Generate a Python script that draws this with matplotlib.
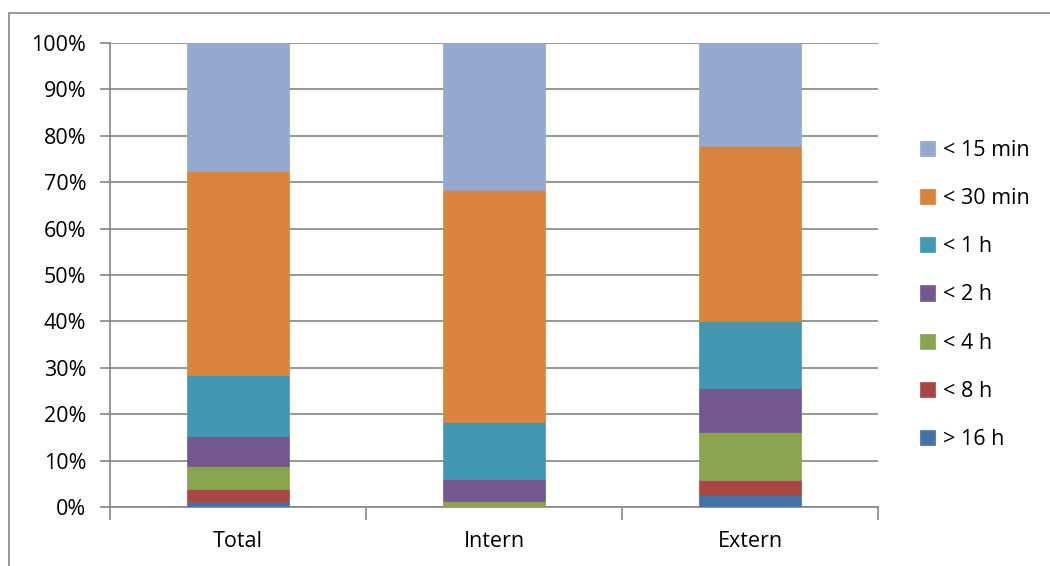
import numpy as np
import matplotlib
matplotlib.use("Agg")
import matplotlib.pyplot as plt
from matplotlib.patches import Rectangle
from matplotlib.ticker import FuncFormatter, MultipleLocator

plt.rcParams.update({"font.family": ["Open Sans", "DejaVu Sans"], "font.size": 15.5})

groups = ["Total", "Intern", "Extern"]
labels = ["> 16 h", "< 8 h", "< 4 h", "< 2 h", "< 1 h", "< 30 min", "< 15 min"]
# share per duration class (bottom to top), in percent
gt16 = [1.0, 0.0, 2.6]
lt8 = [2.9, 0.0, 3.3]
lt4 = [5.0, 1.2, 10.3]
lt2 = [6.4, 4.9, 9.5]
lt1h = [13.1, 12.2, 14.4]
lt30 = [44.1, 50.0, 37.7]
lt15 = [27.5, 31.7, 22.2]
series = [gt16, lt8, lt4, lt2, lt1h, lt30, lt15]
colors = ["#4572A7", "#AA4643", "#89A54E", "#71588F", "#4198AF", "#DB843D", "#93A9CF"]

W, H = 1050, 566
fig = plt.figure(figsize=(W/100, H/100), dpi=100)
ax = fig.add_axes([110/W, 1-507/H, (878-110)/W, (507-43)/H])

x = np.arange(len(groups))
bottom = np.zeros(len(groups))
handles = []
for vals, c, lab in zip(series, colors, labels):
    v = np.array(vals)
    b = ax.bar(x, v, 0.4, bottom=bottom, color=c, label=lab, zorder=3,
               edgecolor=c, linewidth=0.5)
    handles.append(b)
    bottom += v

ax.set_xlim(-0.5, 2.5)
ax.set_ylim(0, 100)
ax.yaxis.set_major_locator(MultipleLocator(10))
ax.yaxis.set_major_formatter(FuncFormatter(lambda v, p: f"{v:.0f}%"))
ax.grid(axis="y", color="#868686", lw=1.2, zorder=0)
for s in ["top", "right"]:
    ax.spines[s].set_visible(False)
for s in ["left", "bottom"]:
    ax.spines[s].set_color("#868686")
    ax.spines[s].set_linewidth(1.2)
ax.tick_params(axis="y", length=7, width=1.2, color="#868686", pad=10)
ax.set_xticks([-0.5, 0.5, 1.5, 2.5], minor=False)
ax.set_xticklabels([])
ax.set_xticks(x, minor=True)
ax.set_xticklabels(groups, minor=True)
ax.tick_params(axis="x", which="major", length=9, width=1.2, color="#868686")
ax.tick_params(axis="x", which="minor", length=0, pad=17)

ax.legend(handles[::-1], labels[::-1], loc="center left", bbox_to_anchor=(911/W, 1-295/H),
          bbox_transform=fig.transFigure, frameon=False, handlelength=0.7, handleheight=0.7,
          handletextpad=0.4, labelspacing=1.26, borderaxespad=0)

# outer chart border
fig.patches.append(Rectangle((9/W, -0.1), 1.2, 1-13/H+0.1, transform=fig.transFigure,
                             fill=False, edgecolor="#868686", lw=1.2))

fig.savefig("out.png", dpi=100)
